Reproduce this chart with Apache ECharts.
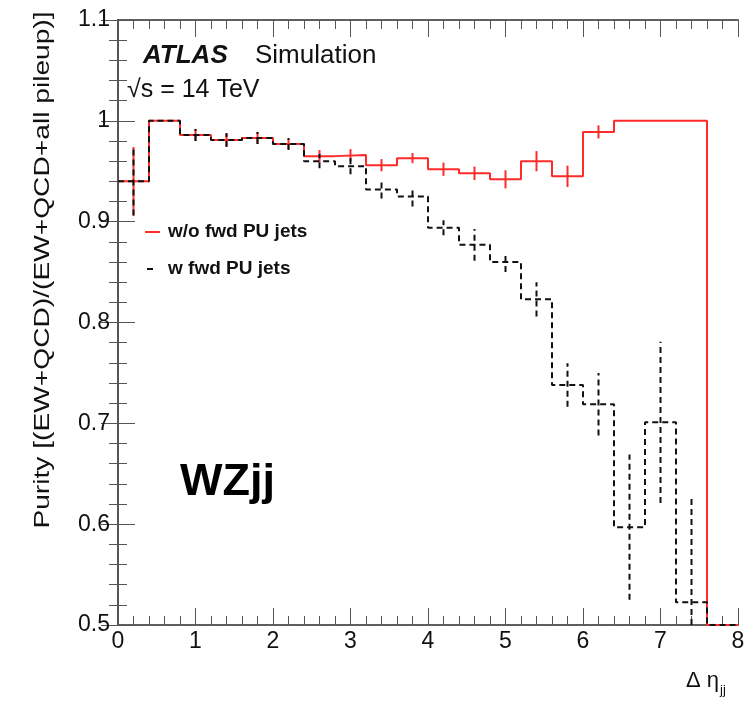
<!DOCTYPE html>
<html>
<head>
<meta charset="utf-8">
<script src="https://cdn.jsdelivr.net/npm/echarts@6/dist/echarts.min.js"></script>
<style>
  html, body { margin: 0; padding: 0; background: #fff; }
  #main { width: 756px; height: 714px; }
</style>
</head>
<body>
<div id="main"></div>
<script>
// bin lower edges (width 0.4)
var binEdges = [0, 0.4, 0.8, 1.2, 1.6, 2.0, 2.4, 2.8, 3.2, 3.6, 4.0, 4.4, 4.8, 5.2, 5.6, 6.0, 6.4, 6.8, 7.2, 7.6];
var binWidth = 0.4;
var xMax = 8;

// w/o fwd PU jets (red)
var purityNoFwd = [0.940, 1.000, 0.986, 0.981, 0.983, 0.977, 0.965, 0.966, 0.956, 0.963,
                   0.952, 0.948, 0.942, 0.960, 0.945, 0.989, 1.000, 1.000, 1.000, 0.5];
var errNoFwd = [0.034, 0, 0.006, 0.006, 0.006, 0.005, 0.006, 0.006, 0.006, 0.005,
                0.0066, 0.0066, 0.009, 0.010, 0.0106, 0.0065, 0, 0, 0, 0];

// w fwd PU jets (black dashed)
var purityFwd = [0.940, 1.000, 0.986, 0.981, 0.983, 0.977, 0.960, 0.955, 0.932, 0.925,
                 0.894, 0.877, 0.860, 0.823, 0.738, 0.719, 0.597, 0.701, 0.5225, 0.5];
var errFwd = [0.034, 0, 0.006, 0.007, 0.006, 0.006, 0.007, 0.008, 0.009, 0.010,
              0.0075, 0.0157, 0.010, 0.017, 0.0215, 0.031, 0.072, 0.080, 0.104, 0];

var yMin = 0.5, yMax = 1.1;

function stepData(vals) {
    var d = [];
    for (var i = 0; i < binEdges.length; i++) d.push([binEdges[i], vals[i]]);
    d.push([xMax, vals[vals.length - 1]]);
    return d;
}
function errData(vals, errs) {
    var d = [];
    for (var i = 0; i < binEdges.length; i++) {
        if (errs[i] > 0) d.push([binEdges[i] + binWidth / 2, vals[i] - errs[i], vals[i] + errs[i]]);
    }
    return d;
}
function errRender(color, dash) {
    return function (params, api) {
        var lo = Math.max(api.value(1), yMin);
        var hi = Math.min(api.value(2), yMax);
        var p1 = api.coord([api.value(0), lo]);
        var p2 = api.coord([api.value(0), hi]);
        return {
            type: 'line',
            shape: { x1: p1[0], y1: p1[1], x2: p2[0], y2: p2[1] },
            style: { stroke: color, lineWidth: 2, lineDash: dash }
        };
    };
}

var font = 'Liberation Sans, Arial, Helvetica, sans-serif';
var axisCol = '#555';

// ROOT style frame: ticks on all four sides, pointing inside
function xAx(pos, interval, len, labels) {
    return {
        type: 'value', position: pos, min: 0, max: xMax, interval: interval,
        axisLine: { show: true, lineStyle: { color: axisCol, width: 1.5 } },
        axisTick: { inside: true, length: len, lineStyle: { color: axisCol } },
        axisLabel: labels ? { color: '#111', fontSize: 23, fontFamily: font, margin: 5 } : { show: false },
        splitLine: { show: false }
    };
}
function yAx(pos, interval, len, labels) {
    return {
        type: 'value', position: pos, min: yMin, max: yMax, interval: interval,
        axisLine: { show: true, lineStyle: { color: axisCol, width: 1.5 } },
        axisTick: { inside: true, length: len, lineStyle: { color: axisCol } },
        axisLabel: labels ? { color: '#111', fontSize: 23, fontFamily: font, margin: 8 } : { show: false },
        splitLine: { show: false }
    };
}

var myChart = echarts.init(document.getElementById('main'));
var option = {
    animation: false,
    backgroundColor: '#fff',
    grid: { left: 118, right: 18, top: 20, bottom: 89 },
    xAxis: [
        xAx('bottom', 1, 17, true), xAx('top', 1, 17, false),
        xAx('bottom', 0.2, 9, false), xAx('top', 0.2, 9, false)
    ],
    yAxis: [
        yAx('left', 0.1, 17, true), yAx('right', 0.1, 17, false),
        yAx('left', 0.02, 9, false), yAx('right', 0.02, 9, false)
    ],
    series: [{
        name: 'w/o fwd PU jets',
        type: 'line', step: 'end', symbol: 'none',
        data: stepData(purityNoFwd),
        lineStyle: { color: '#ff2a2a', width: 2 },
        z: 2
    }, {
        name: 'w/o err',
        type: 'custom',
        renderItem: errRender('#ff2a2a', null),
        data: errData(purityNoFwd, errNoFwd),
        z: 2
    }, {
        name: 'w fwd PU jets',
        type: 'line', step: 'end', symbol: 'none',
        data: stepData(purityFwd),
        lineStyle: { color: '#111', width: 2, type: [6, 4] },
        z: 3
    }, {
        name: 'w err',
        type: 'custom',
        renderItem: errRender('#111', [6, 4]),
        data: errData(purityFwd, errFwd),
        z: 3
    }],
    graphic: [
        { type: 'text', left: 143, top: 43, style: { text: 'ATLAS', font: 'italic bold 26px ' + font, fill: '#111' } },
        { type: 'text', left: 255, top: 43, style: { text: 'Simulation', font: '26px ' + font, fill: '#111' } },
        { type: 'text', left: 127, top: 78, style: { text: '\u221As = 14 TeV', font: '25px ' + font, fill: '#111' } },
        { type: 'line', shape: { x1: 145, y1: 232, x2: 160, y2: 232 }, style: { stroke: '#ff2a2a', lineWidth: 2 } },
        { type: 'text', left: 168, top: 222, style: { text: 'w/o fwd PU jets', font: 'bold 19px ' + font, fill: '#111' } },
        { type: 'line', shape: { x1: 147, y1: 269, x2: 153, y2: 269 }, style: { stroke: '#111', lineWidth: 2 } },
        { type: 'text', left: 168, top: 259, style: { text: 'w fwd PU jets', font: 'bold 19px ' + font, fill: '#111' } },
        { type: 'text', left: 180, top: 460, style: { text: 'WZjj', font: 'bold 45px ' + font, fill: '#000' } },
        {
            type: 'text', x: 43, y: 270, rotation: Math.PI / 2, scaleX: 1.28,
            style: {
                text: 'Purity [(EW+QCD)/(EW+QCD+all pileup)]',
                font: '22px ' + font, fill: '#111', align: 'center', verticalAlign: 'middle'
            }
        },
        {
            type: 'text', left: 686, top: 670,
            style: {
                text: '{a|\u0394 \u03b7}{b|jj}',
                rich: {
                    a: { font: '22px ' + font, fill: '#111' },
                    b: { font: '13px ' + font, fill: '#111', padding: [18, 0, 0, 1] }
                }
            }
        }
    ]
};
myChart.setOption(option);
</script>
</body>
</html>
